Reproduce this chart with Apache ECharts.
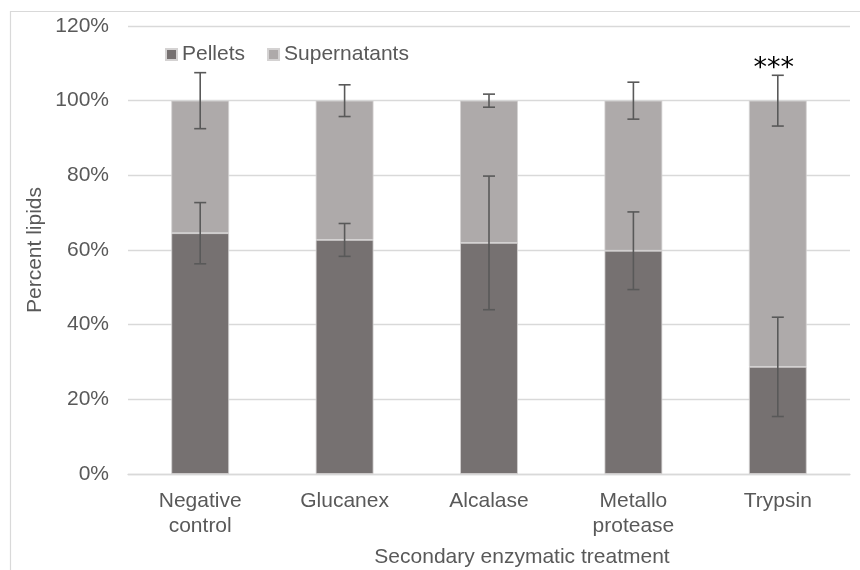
<!DOCTYPE html>
<html>
<head>
<meta charset="utf-8">
<script src="https://cdn.jsdelivr.net/npm/echarts@6/dist/echarts.min.js"></script>
<style>
  html, body { margin: 0; padding: 0; background: #fff; }
  #chart { width: 860px; height: 570px; }
</style>
</head>
<body>
<div id="chart"></div>
<script>
// Lipid distribution after secondary enzymatic treatment (percent of total)
const categories = ['Negative\ncontrol', 'Glucanex', 'Alcalase', 'Metallo\nprotease', 'Trypsin'];
const pellets = [64.5, 62.7, 61.9, 59.8, 28.7];
const supernatants = [35.5, 37.3, 38.1, 40.2, 71.3];
const pelletErr = [8.2, 4.4, 17.9, 10.4, 13.3];
const supernatantErr = [7.5, 4.25, 1.75, 4.95, 6.8];
const yTicks = [0, 20, 40, 60, 80, 100, 120];
const significance = ['', '', '', '', '***'];

const FONT = '"Liberation Sans", Arial, sans-serif';
const TEXT = '#595959';
const GRID = '#d9d9d9';

// error bar items: [category index, centre value, half-width]
const pelletBars = pellets.map((v, i) => [i, v, pelletErr[i]]);
const supernatantBars = supernatants.map((v, i) => [i, pellets[i] + v, supernatantErr[i]]);

function errorBar(params, api) {
  const x = api.value(0);
  const c = api.value(1);
  const e = api.value(2);
  const hi = api.coord([x, c + e]);
  const lo = api.coord([x, c - e]);
  const cap = 6;
  const style = { stroke: '#595959', lineWidth: 1.6 };
  return {
    type: 'group',
    children: [
      { type: 'line', shape: { x1: hi[0], y1: hi[1], x2: lo[0], y2: lo[1] }, style },
      { type: 'line', shape: { x1: hi[0] - cap, y1: hi[1], x2: hi[0] + cap, y2: hi[1] }, style },
      { type: 'line', shape: { x1: lo[0] - cap, y1: lo[1], x2: lo[0] + cap, y2: lo[1] }, style }
    ]
  };
}

const chart = echarts.init(document.getElementById('chart'), null, { renderer: 'canvas' });

chart.setOption({
  animation: false,
  backgroundColor: '#fff',
  textStyle: { fontFamily: FONT },
  grid: { left: 128, right: 10, top: 26, bottom: 96 },
  legend: {
    left: 160,
    top: 39,
    itemWidth: 11,
    itemHeight: 11,
    itemGap: 22,
    icon: 'rect',
    textStyle: { color: TEXT, fontSize: 21, fontFamily: FONT },
    data: ['Pellets', 'Supernatants']
  },
  xAxis: {
    type: 'category',
    data: categories,
    axisLine: { lineStyle: { color: GRID, width: 1.3 } },
    axisTick: { show: false },
    axisLabel: {
      color: TEXT,
      fontSize: 21,
      fontFamily: FONT,
      lineHeight: 25,
      margin: 15,
      interval: 0
    }
  },
  yAxis: {
    type: 'value',
    min: yTicks[0],
    max: yTicks[yTicks.length - 1],
    interval: yTicks[1] - yTicks[0],
    axisLine: { show: false },
    axisTick: { show: false },
    splitLine: { lineStyle: { color: GRID, width: 1.3 } },
    axisLabel: {
      color: TEXT,
      fontSize: 21,
      fontFamily: FONT,
      margin: 19,
      formatter: '{value}%'
    }
  },
  series: [
    {
      name: 'Pellets',
      type: 'bar',
      stack: 'lipids',
      data: pellets,
      barCategoryGap: '60%',
      itemStyle: { color: '#767171', borderColor: '#d4d2d2', borderWidth: 0.8 }
    },
    {
      name: 'Supernatants',
      type: 'bar',
      stack: 'lipids',
      data: supernatants,
      barCategoryGap: '60%',
      itemStyle: { color: '#aeaaaa', borderColor: '#d4d2d2', borderWidth: 0.8 }
    },
    {
      name: 'pelletErr',
      type: 'custom',
      renderItem: errorBar,
      data: pelletBars,
      encode: { x: 0, y: 1 },
      z: 10,
      silent: true
    },
    {
      name: 'supernatantErr',
      type: 'custom',
      renderItem: errorBar,
      data: supernatantBars,
      encode: { x: 0, y: 1 },
      z: 10,
      silent: true
    }
  ],
  graphic: [
    {
      id: 'frame',
      type: 'rect',
      silent: true,
      shape: { x: 10.5, y: 11.5, width: 900, height: 600 },
      style: { fill: 'none', stroke: GRID, lineWidth: 1.2 },
      z: -1
    },
    {
      id: 'yName',
      type: 'text',
      silent: true,
      x: 35,
      y: 250,
      rotation: Math.PI / 2,
      style: {
        text: 'Percent lipids',
        font: '21px ' + FONT,
        fill: TEXT,
        align: 'center',
        verticalAlign: 'middle'
      }
    },
    {
      id: 'xName',
      type: 'text',
      silent: true,
      x: 522,
      y: 557,
      style: {
        text: 'Secondary enzymatic treatment',
        font: '21px ' + FONT,
        fill: TEXT,
        align: 'center',
        verticalAlign: 'middle'
      }
    }
  ]
});

// significance marks above the upper error bar of each category
const marks = [];
significance.forEach((s, i) => {
  if (!s) return;
  const p = chart.convertToPixel({ gridIndex: 0 }, [i, pellets[i] + supernatants[i] + supernatantErr[i]]);
  marks.push({
    id: 'sig' + i,
    type: 'text',
    silent: true,
    x: p[0] - 4,
    y: p[1] - 6,
    style: {
      text: s,
      font: '27px "DejaVu Sans", sans-serif',
      fill: '#000',
      align: 'center',
      verticalAlign: 'middle'
    }
  });
});
chart.setOption({ graphic: marks });
</script>
</body>
</html>
